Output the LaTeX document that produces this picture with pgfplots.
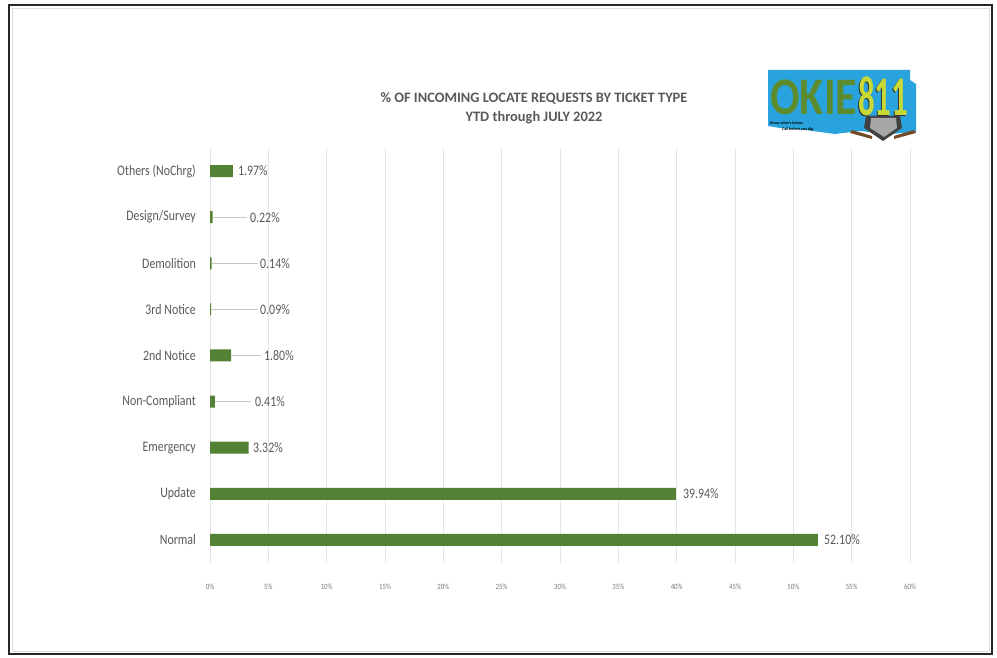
\documentclass[border=0pt]{standalone}
\usepackage{pgfplots}
\pgfplotsset{compat=1.18}
\usepackage{fontspec}
\setmainfont{Carlito}
\definecolor{barGreen}{RGB}{84,130,53}
\definecolor{txtGray}{RGB}{89,89,89}
\definecolor{tickGray}{RGB}{120,120,120}
\definecolor{okBlue}{RGB}{41,163,221}
\definecolor{okGreen}{RGB}{92,140,46}
\definecolor{okYellow}{RGB}{200,217,54}

% label anchor x (in %), category row, value
\pgfplotstableread{
lx     y  v
52.63  0  52.10
40.54  1  39.94
3.69   2  3.32
3.86   3  0.41
4.63   4  1.80
4.29   5  0.09
4.29   6  0.14
3.43   7  0.22
2.40   8  1.97
}\labtable

\begin{document}
\begin{tikzpicture}[x=1pt,y=1pt]
\path[use as bounding box] (0,0) rectangle (997,658);
\draw[line width=2.6pt, black!85] (9,4) rectangle (992,653);
\draw[black!12, line width=0.8pt] (12,7) rectangle (989,650);

% title
\node[font=\fontsize{14.4}{16}\selectfont\bfseries, text=txtGray] at (534,560) {\% OF INCOMING LOCATE REQUESTS BY TICKET TYPE};
\node[font=\fontsize{14.4}{16}\selectfont\bfseries, text=txtGray] at (534,540) {YTD through JULY 2022};

% logo
\fill[okBlue] (768,588) -- (910,588) -- (910,578) -- (916,574) -- (916,526) -- (890,524) -- (860,527) -- (835,524) -- (805,528) -- (780,530) -- (768,532) -- cycle;
\fill[brown!60!black] (852,528) -- (872,522) -- (872,519) -- (850,525) -- cycle;
\fill[brown!60!black] (914,528) -- (894,522) -- (894,519) -- (916,525) -- cycle;
\fill[black!75] (866,542) -- (900,542) -- (902,530) -- (883,517) -- (864,530) -- cycle;
\fill[black!35] (871,540) -- (896,540) -- (897,530) -- (884,521) -- (870,530) -- cycle;
\node[font=\fontsize{44}{44}\selectfont\bfseries, text=okGreen, yscale=1.2, inner sep=0, anchor=base west] at (770,543) {OKIE};
\node[font=\fontsize{50}{50}\selectfont\bfseries, text=black!80, xscale=0.66, yscale=1.12, inner sep=0, anchor=base west] at (857,541) {811};
\node[font=\fontsize{50}{50}\selectfont\bfseries, text=okYellow, xscale=0.66, yscale=1.12, inner sep=0, anchor=base west] at (858,542) {811};
\node[font=\fontsize{4}{4}\selectfont\bfseries, anchor=west, inner sep=0] at (770,535) {Know what's below.};
\node[font=\fontsize{4}{4}\selectfont\bfseries, anchor=west, inner sep=0] at (782,529) {Call before you dig.};

\begin{axis}[
  at={(210pt,95pt)}, anchor=south west,
  scale only axis, width=700pt, height=415pt,
  xmin=0, xmax=60, ymin=-0.5, ymax=8.5,
  xtick={0,5,...,60},
  xticklabel={\pgfmathprintnumber{\tick}\%},
  ytick={0,...,8},
  yticklabels={Normal,Update,Emergency,Non-Compliant,2nd Notice,3rd Notice,Demolition,Design/Survey,Others (NoChrg)},
  axis line style={draw=none},
  major tick length=0pt,
  xmajorgrids,
  grid style={black!10, line width=0.7pt},
  /pgf/number format/assume math mode=true,
  xticklabel style={font=\fontsize{8}{9}\selectfont, text=tickGray, anchor=center, yshift=-24pt, xscale=0.85},
  yticklabel style={font=\fontsize{14.5}{16}\selectfont, text=txtGray, anchor=east, inner sep=0pt, xshift=-14pt, xscale=0.82},
  clip=false,
]
\addplot[xbar, fill=barGreen, draw=none, bar width=12pt, forget plot]
  coordinates {(52.10,0) (39.94,1) (3.32,2) (0.41,3) (1.80,4) (0.09,5) (0.14,6) (0.22,7) (1.97,8)};
% leader lines
\addplot[black!22, line width=0.8pt, forget plot] coordinates {(0.41,3) (3.50,3)};
\addplot[black!22, line width=0.8pt, forget plot] coordinates {(1.80,4) (4.40,4)};
\addplot[black!22, line width=0.8pt, forget plot] coordinates {(0.09,5) (4.10,5)};
\addplot[black!22, line width=0.8pt, forget plot] coordinates {(0.14,6) (4.10,6)};
\addplot[black!22, line width=0.8pt, forget plot] coordinates {(0.22,7) (3.20,7)};
% data labels
\addplot[only marks, mark=none, forget plot,
  point meta=\thisrow{v},
  nodes near coords={\pgfmathprintnumber[fixed,fixed zerofill,precision=2]{\pgfplotspointmeta}\%},
  every node near coord/.style={anchor=west, inner sep=0pt, font=\fontsize{14.5}{16}\selectfont, text=txtGray, xscale=0.82},
] table[x=lx, y=y] {\labtable};
\end{axis}
\end{tikzpicture}
\end{document}
